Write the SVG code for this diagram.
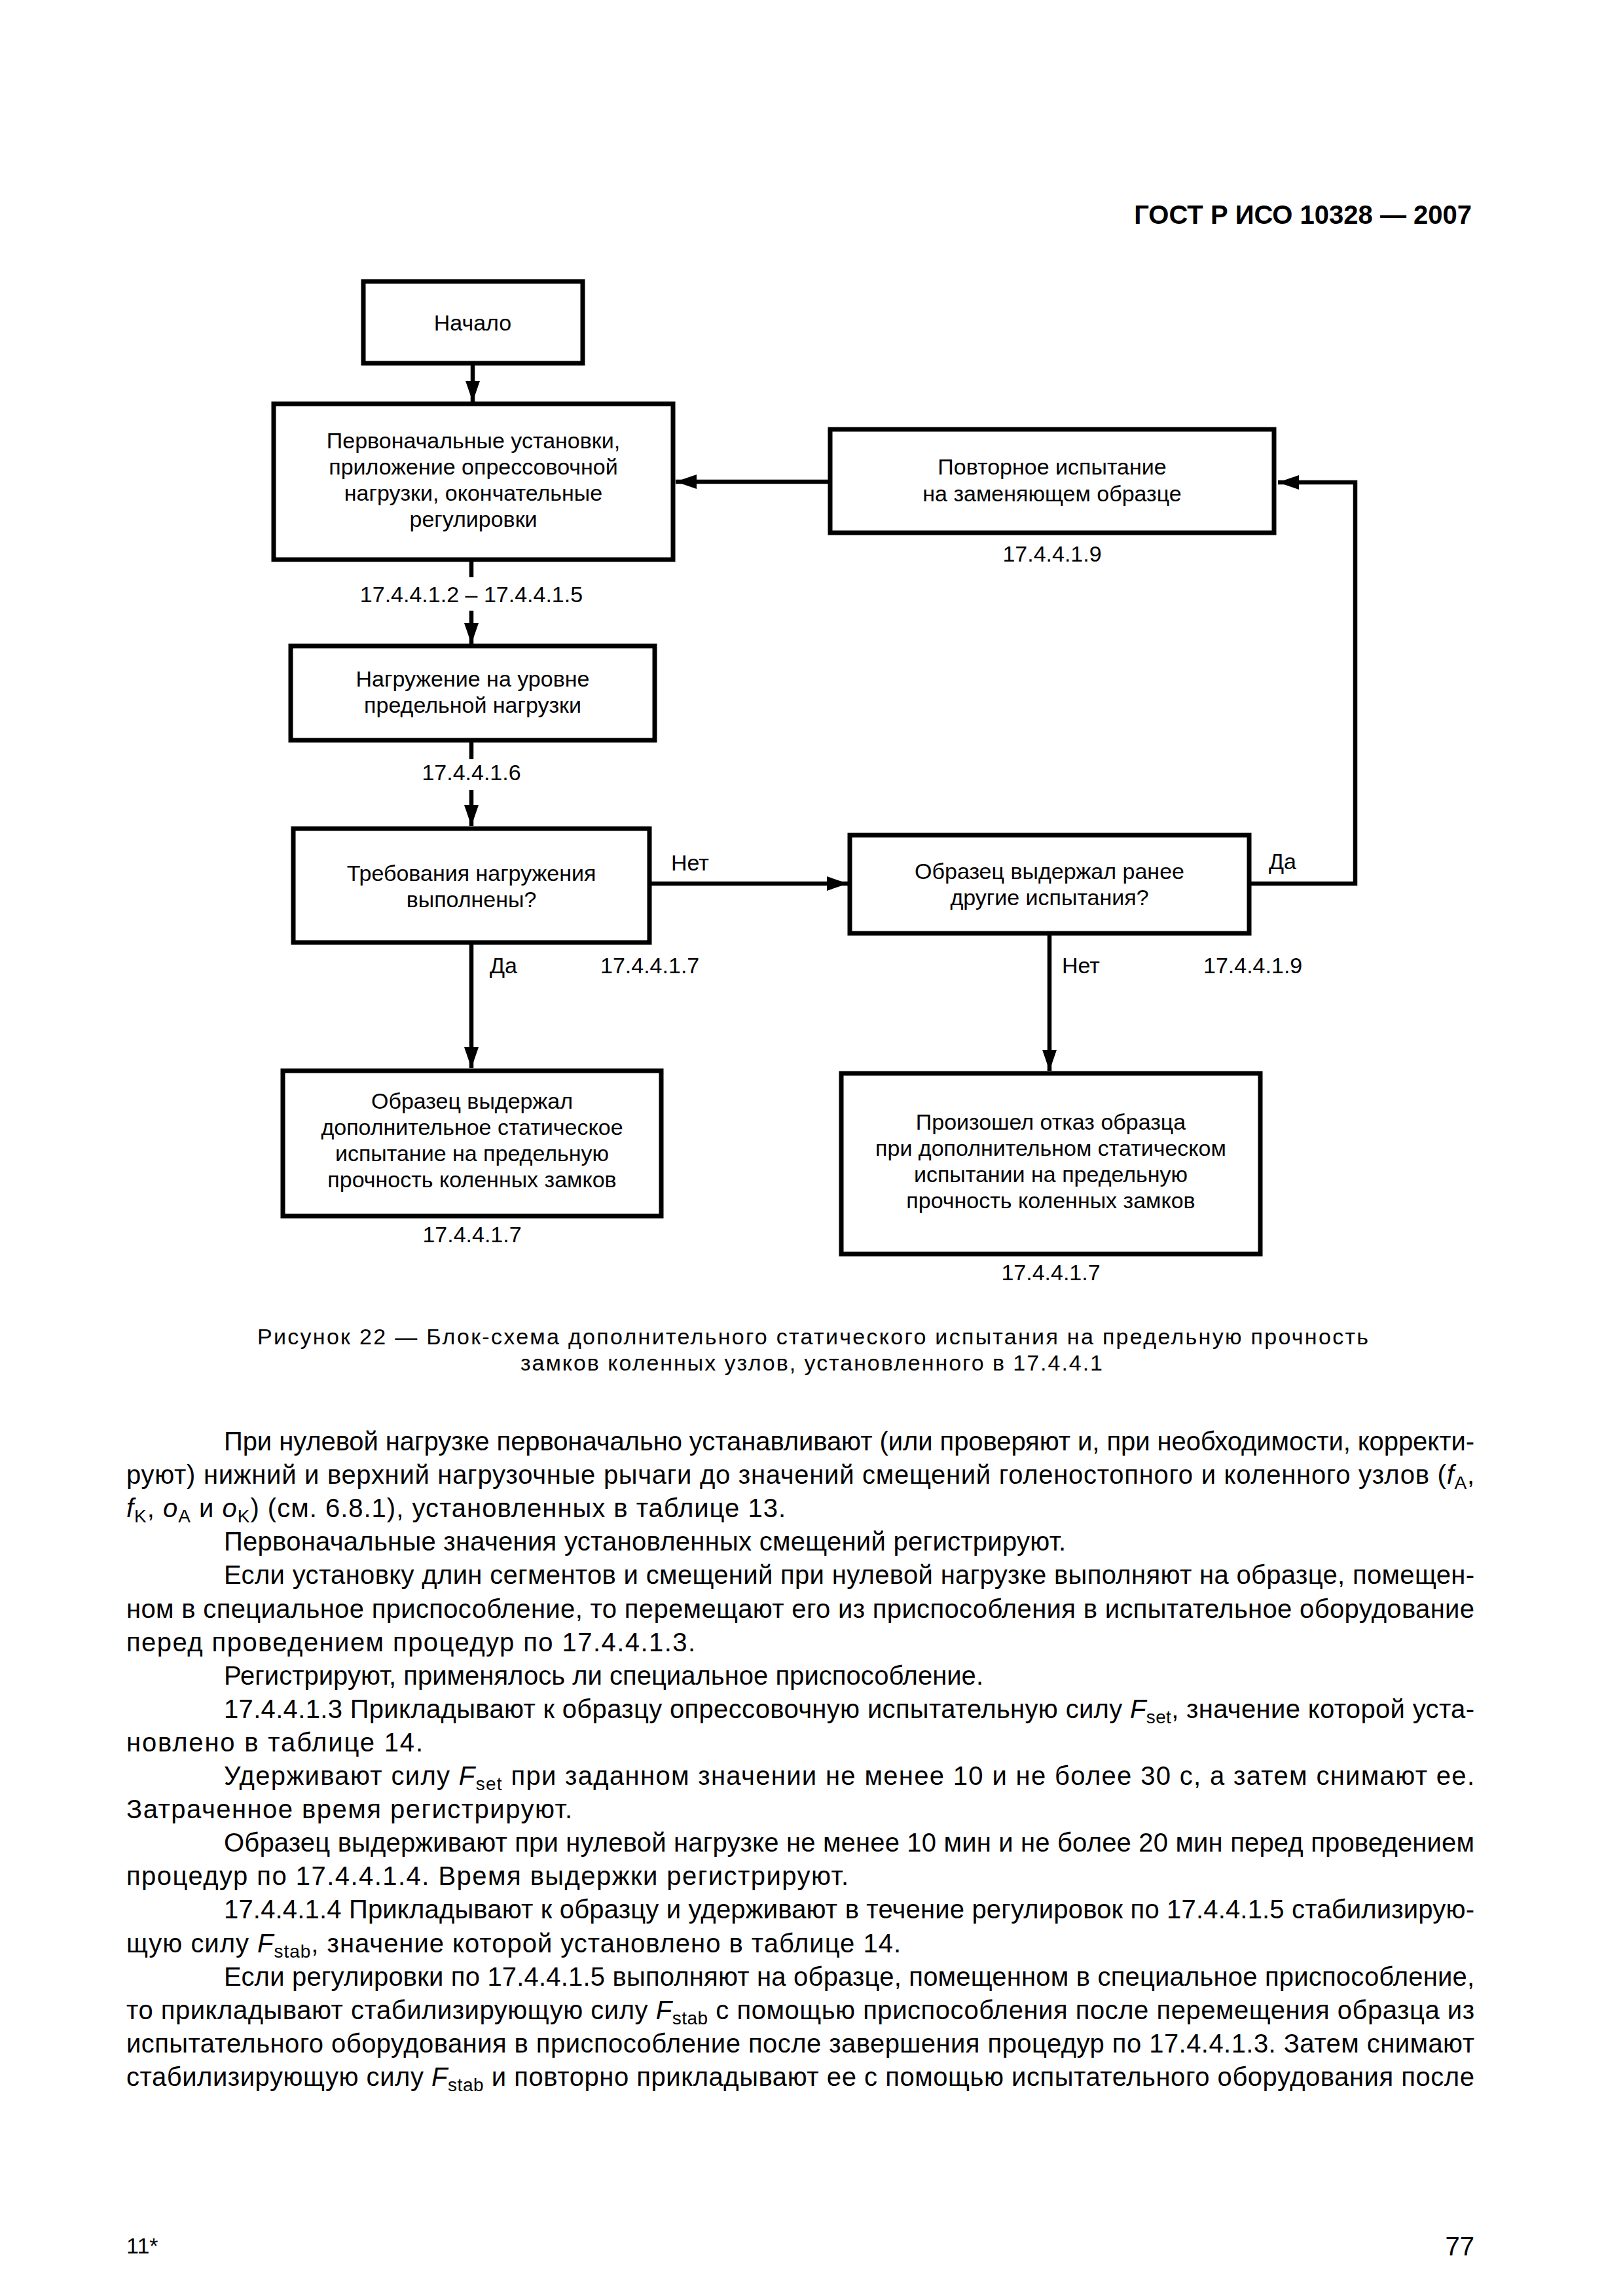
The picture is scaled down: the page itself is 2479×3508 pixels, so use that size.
<svg xmlns="http://www.w3.org/2000/svg" width="2479" height="3508" viewBox="0 0 2479 3508">
<style>
text{font-family:"Liberation Sans",Arial,sans-serif;fill:#000}
.n{font-size:34px;text-anchor:middle}
.l{font-size:34px}
.lc{font-size:34px;text-anchor:middle}
.b{font-size:40px}
.box{fill:#fff;stroke:#000;stroke-width:7}
.c{fill:none;stroke:#000;stroke-width:6.5}
.i{font-style:italic}
.s{font-size:28px}
.cap{font-size:34px}
.h{font-size:40px;font-weight:bold;text-anchor:end}
</style>
<defs>
<marker id="ah" markerUnits="userSpaceOnUse" viewBox="0 0 32 22" refX="32" refY="11" markerWidth="32" markerHeight="22" orient="auto">
<path d="M0,0 L32,11 L0,22 Z" fill="#000"/>
</marker>
</defs>
<rect width="2479" height="3508" fill="#fff"/>
<text class="h" x="2248" y="342">ГОСТ Р ИСО 10328 — 2007</text>

<g id="connectors">
<line class="c" x1="722" y1="555" x2="722" y2="614" marker-end="url(#ah)"/>
<line class="c" x1="720" y1="855" x2="720" y2="882"/>
<line class="c" x1="720" y1="933" x2="720" y2="984" marker-end="url(#ah)"/>
<line class="c" x1="720" y1="1131" x2="720" y2="1160"/>
<line class="c" x1="720" y1="1207" x2="720" y2="1262" marker-end="url(#ah)"/>
<line class="c" x1="992" y1="1350" x2="1295" y2="1350" marker-end="url(#ah)"/>
<polyline class="c" points="1908,1350 2070,1350 2070,737 1952,737" marker-end="url(#ah)"/>
<line class="c" x1="1268" y1="736" x2="1032" y2="736" marker-end="url(#ah)"/>
<line class="c" x1="720" y1="1440" x2="720" y2="1632" marker-end="url(#ah)"/>
<line class="c" x1="1603" y1="1426" x2="1603" y2="1636" marker-end="url(#ah)"/>
<text class="lc" x="720" y="920">17.4.4.1.2 – 17.4.4.1.5</text>
<text class="lc" x="720" y="1192">17.4.4.1.6</text>
<text class="l" x="1025" y="1330">Нет</text>
<text class="l" x="1938" y="1328">Да</text>
<text class="l" x="748" y="1487">Да</text>
<text class="l" x="917" y="1487">17.4.4.1.7</text>
<text class="l" x="1622" y="1487">Нет</text>
<text class="l" x="1838" y="1487">17.4.4.1.9</text>
</g>

<g id="n1">
<rect class="box" x="555" y="430" width="335" height="125"/>
<text class="n" x="722" y="505">Начало</text>
</g>
<g id="n2">
<rect class="box" x="418" y="617" width="610" height="238"/>
<text class="n" x="723" y="685">Первоначальные установки,</text>
<text class="n" x="723" y="725">приложение опрессовочной</text>
<text class="n" x="723" y="765">нагрузки, окончательные</text>
<text class="n" x="723" y="805">регулировки</text>
</g>
<g id="n3">
<rect class="box" x="444" y="987" width="556" height="144"/>
<text class="n" x="722" y="1049">Нагружение на уровне</text>
<text class="n" x="722" y="1089">предельной нагрузки</text>
</g>
<g id="n4">
<rect class="box" x="448" y="1266" width="544" height="174"/>
<text class="n" x="720" y="1346">Требования нагружения</text>
<text class="n" x="720" y="1386">выполнены?</text>
</g>
<g id="n5">
<rect class="box" x="1298" y="1276" width="610" height="150"/>
<text class="n" x="1603" y="1343">Образец выдержал ранее</text>
<text class="n" x="1603" y="1383">другие испытания?</text>
</g>
<g id="n6">
<rect class="box" x="1268" y="656" width="678" height="158"/>
<text class="n" x="1607" y="725">Повторное испытание</text>
<text class="n" x="1607" y="766">на заменяющем образце</text>
<text class="n" x="1607" y="858">17.4.4.1.9</text>
</g>
<g id="n7">
<rect class="box" x="432" y="1636" width="578" height="222"/>
<text class="n" x="721" y="1694">Образец выдержал</text>
<text class="n" x="721" y="1734">дополнительное статическое</text>
<text class="n" x="721" y="1774">испытание на предельную</text>
<text class="n" x="721" y="1814">прочность коленных замков</text>
<text class="n" x="721" y="1898">17.4.4.1.7</text>
</g>
<g id="n8">
<rect class="box" x="1285" y="1640" width="640" height="276"/>
<text class="n" x="1605" y="1726">Произошел отказ образца</text>
<text class="n" x="1605" y="1766">при дополнительном статическом</text>
<text class="n" x="1605" y="1806">испытании на предельную</text>
<text class="n" x="1605" y="1846">прочность коленных замков</text>
<text class="n" x="1605" y="1956">17.4.4.1.7</text>
</g>

<text class="cap" x="393" y="2054" textLength="1697" lengthAdjust="spacing">Рисунок 22 — Блок-схема дополнительного статического испытания на предельную прочность</text>
<text class="cap" x="795" y="2094" textLength="889" lengthAdjust="spacing">замков коленных узлов, установленного в 17.4.4.1</text>

<g id="body">
<text class="b" x="342" y="2216" textLength="1910" lengthAdjust="spacing">При нулевой нагрузке первоначально устанавливают (или проверяют и, при необходимости, корректи-</text>
<text class="b" x="193" y="2267" textLength="2059" lengthAdjust="spacing">руют) нижний и верхний нагрузочные рычаги до значений смещений голеностопного и коленного узлов (<tspan class="i">f</tspan><tspan class="s" dy="8">A</tspan><tspan dy="-8">,</tspan></text>
<text class="b" x="193" y="2318" textLength="1007" lengthAdjust="spacing"><tspan class="i">f</tspan><tspan class="s" dy="8">K</tspan><tspan dy="-8">, </tspan><tspan class="i">o</tspan><tspan class="s" dy="8">A</tspan><tspan dy="-8"> и </tspan><tspan class="i">o</tspan><tspan class="s" dy="8">K</tspan><tspan dy="-8">) (см. 6.8.1), установленных в таблице 13.</tspan></text>
<text class="b" x="342" y="2369" textLength="1286" lengthAdjust="spacing">Первоначальные значения установленных смещений регистрируют.</text>
<text class="b" x="342" y="2420" textLength="1910" lengthAdjust="spacing">Если установку длин сегментов и смещений при нулевой нагрузке выполняют на образце, помещен-</text>
<text class="b" x="193" y="2472" textLength="2059" lengthAdjust="spacing">ном в специальное приспособление, то перемещают его из приспособления в испытательное оборудование</text>
<text class="b" x="193" y="2523" textLength="869" lengthAdjust="spacing">перед проведением процедур по 17.4.4.1.3.</text>
<text class="b" x="342" y="2574" textLength="1160" lengthAdjust="spacing">Регистрируют, применялось ли специальное приспособление.</text>
<text class="b" x="342" y="2625" textLength="1910" lengthAdjust="spacing">17.4.4.1.3 Прикладывают к образцу опрессовочную испытательную силу <tspan class="i">F</tspan><tspan class="s" dy="8">set</tspan><tspan dy="-8">, значение которой уста-</tspan></text>
<text class="b" x="193" y="2676" textLength="453" lengthAdjust="spacing">новлено в таблице 14.</text>
<text class="b" x="342" y="2727" textLength="1910" lengthAdjust="spacing">Удерживают силу <tspan class="i">F</tspan><tspan class="s" dy="8">set</tspan><tspan dy="-8"> при заданном значении не менее 10 и не более 30 с, а затем снимают ее.</tspan></text>
<text class="b" x="193" y="2778" textLength="681" lengthAdjust="spacing">Затраченное время регистрируют.</text>
<text class="b" x="342" y="2829" textLength="1910" lengthAdjust="spacing">Образец выдерживают при нулевой нагрузке не менее 10 мин и не более 20 мин перед проведением</text>
<text class="b" x="193" y="2880" textLength="1103" lengthAdjust="spacing">процедур по 17.4.4.1.4. Время выдержки регистрируют.</text>
<text class="b" x="342" y="2931" textLength="1910" lengthAdjust="spacing">17.4.4.1.4 Прикладывают к образцу и удерживают в течение регулировок по 17.4.4.1.5 стабилизирую-</text>
<text class="b" x="193" y="2983" textLength="1183" lengthAdjust="spacing">щую силу <tspan class="i">F</tspan><tspan class="s" dy="8">stab</tspan><tspan dy="-8">, значение которой установлено в таблице 14.</tspan></text>
<text class="b" x="342" y="3034" textLength="1910" lengthAdjust="spacing">Если регулировки по 17.4.4.1.5 выполняют на образце, помещенном в специальное приспособление,</text>
<text class="b" x="193" y="3085" textLength="2059" lengthAdjust="spacing">то прикладывают стабилизирующую силу <tspan class="i">F</tspan><tspan class="s" dy="8">stab</tspan><tspan dy="-8"> с помощью приспособления после перемещения образца из</tspan></text>
<text class="b" x="193" y="3136" textLength="2059" lengthAdjust="spacing">испытательного оборудования в приспособление после завершения процедур по 17.4.4.1.3. Затем снимают</text>
<text class="b" x="193" y="3187" textLength="2059" lengthAdjust="spacing">стабилизирующую силу <tspan class="i">F</tspan><tspan class="s" dy="8">stab</tspan><tspan dy="-8"> и повторно прикладывают ее с помощью испытательного оборудования после</tspan></text>
</g>
<text class="l" x="193" y="3443" font-size="28">11*</text>
<text class="b" x="2252" y="3446" text-anchor="end">77</text>
</svg>
